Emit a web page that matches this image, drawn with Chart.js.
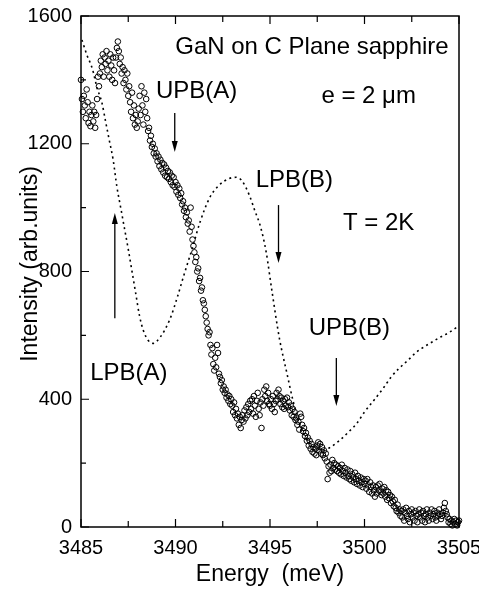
<!DOCTYPE html>
<html><head><meta charset="utf-8">
<script src="https://cdn.jsdelivr.net/npm/chart.js@4.4.0/dist/chart.umd.min.js"></script>
<style>html,body{margin:0;padding:0;background:#fff;}canvas{display:block;}</style>
</head><body>
<canvas id="c" width="479" height="595"></canvas>
<script>
// Measured spectrum: energy grid (meV) and intensity (arb. units)
const E_START = 3485, E_STEP = 0.05;
const intensity = [
 1400,1340,1300,1350,1320,1280,1370,1330,1265,1300,1255,1290,1320,1270,1300,1250,1290,1340,1410,1380,
 1420,1460,1440,1480,1410,1470,1450,1490,1430,1460,1410,1480,1445,1400,1470,1430,1390,1470,1500,1520,
 1490,1450,1470,1420,1440,1390,1430,1400,1370,1420,1350,1380,1330,1300,1360,1280,1320,1260,1290,1250,
 1270,1310,1350,1290,1380,1320,1260,1360,1300,1340,1280,1240,1250,1210,1225,1190,1200,1170,1185,1160,
 1170,1145,1160,1130,1150,1120,1140,1110,1135,1100,1125,1095,1115,1090,1110,1080,1100,1070,1095,1065,
 1080,1050,1070,1040,1060,1030,1045,1010,1020,990,1000,970,985,950,960,925,1000,940,900,880,
 860,830,845,800,810,770,780,740,750,710,700,680,660,640,620,600,610,570,540,560,
 510,490,530,500,570,545,480,470,450,460,430,440,420,430,405,415,395,410,385,400,
 380,360,390,350,370,340,355,320,345,310,335,350,330,365,340,375,350,385,360,395,
 370,400,355,410,380,345,395,420,370,350,390,310,400,380,430,410,440,395,420,385,
 380,400,370,410,385,360,395,420,400,430,410,385,405,375,395,370,400,380,405,375,
 390,365,380,350,370,345,360,335,340,320,330,305,355,345,320,300,310,285,295,270,
 280,255,270,245,260,235,250,230,245,225,255,265,240,260,230,250,225,240,215,230,
 205,150,190,170,195,175,210,185,200,180,195,175,190,170,185,165,195,175,160,185,
 170,155,180,160,150,175,145,165,155,140,170,150,135,160,145,130,155,140,125,150,
 135,145,120,150,130,110,140,125,105,130,115,95,125,105,130,115,135,110,100,120,
 105,125,95,115,85,110,90,100,75,95,80,65,85,60,50,70,45,55,35,50,
 30,55,20,45,60,35,25,50,15,40,55,30,45,20,50,35,15,40,55,30,
 45,20,50,35,15,40,55,30,20,45,35,55,25,40,50,30,20,45,35,55,
 40,25,35,45,60,75,50,40,30,15,25,10,20,5,15,25,10,20,5,15,
 20
];
// Calculated (dotted) curve
const fitEnergy = [3485.05,3485.3,3485.6,3485.85,3486.1,3486.3,3486.5,3486.7,3486.9,3487.1,3487.3,3487.5,3487.7,3487.9,3488.1,3488.3,3488.55,3488.8,3489.2,3489.7,3490.1,3490.4,3490.9,3491.3,3491.8,3492.3,3492.8,3493.2,3493.5,3493.9,3494.2,3494.5,3494.8,3495.1,3495.5,3495.9,3496.2,3496.6,3497.1,3497.5,3497.8,3498.2,3498.7,3499.2,3499.6,3500.0,3500.5,3501.0,3501.4,3501.8,3502.3,3502.7,3503.1,3503.6,3504.0,3504.5,3504.95];
const fitIntensity = [1525,1480,1435,1375,1330,1270,1210,1150,1065,1000,935,870,800,730,660,615,585,575,595,650,720,780,875,955,1030,1070,1090,1095,1085,1040,990,940,860,740,590,480,400,315,262,245,240,250,272,300,325,360,397,435,469,495,522,545,562,580,594,610,628];

const xMinorTicks = [3487.5,3492.5,3497.5,3502.5];
const xMajorTicks = [3485,3490,3495,3500,3505];
const yMinorTicks = [200,600,1000,1400];
const yMajorTicks = [0,400,800,1200,1600];

const textLabels = [
  {text:'GaN on C Plane sapphire', x:3497.22, y:1481},
  {text:'UPB(A)', x:3491.12, y:1343},
  {text:'e = 2 \u03bcm', x:3500.22, y:1327},
  {text:'LPB(B)', x:3496.29, y:1064},
  {text:'T = 2K', x:3500.75, y:930},
  {text:'UPB(B)', x:3499.2, y:601},
  {text:'LPB(A)', x:3487.53, y:460}
];
const arrowList = [
  {x:3489.96, from:1296, to:1174},
  {x:3495.45, from:1008, to:827},
  {x:3498.51, from:529, to:379},
  {x:3486.79, from:654, to:983}
];

const FONT = "'Liberation Sans', Arial, Helvetica, sans-serif";
const spectrum = intensity.map((v,i)=>({x: E_START + i*E_STEP, y: v}));
const fit = fitEnergy.map((e,i)=>({x:e, y:fitIntensity[i]}));

const deco = {
  id:'deco',
  afterDraw(chart){
    const {ctx, chartArea:a, scales:{x,y}} = chart;
    ctx.save();
    ctx.strokeStyle='#000';
    ctx.lineWidth=1.5;
    ctx.strokeRect(a.left, a.top, a.right-a.left, a.bottom-a.top);
    ctx.lineWidth=1.2;
    ctx.beginPath();
    const xt = (v,L)=>{const p=x.getPixelForValue(v); ctx.moveTo(p,a.bottom); ctx.lineTo(p,a.bottom-L); ctx.moveTo(p,a.top); ctx.lineTo(p,a.top+L);};
    const yt = (v,L)=>{const p=y.getPixelForValue(v); ctx.moveTo(a.left,p); ctx.lineTo(a.left+L,p);};
    xMajorTicks.forEach(v=>xt(v,8)); xMinorTicks.forEach(v=>xt(v,6));
    yMajorTicks.forEach(v=>yt(v,8)); yMinorTicks.forEach(v=>yt(v,5));
    ctx.stroke();
    // annotations
    ctx.fillStyle='#000';
    ctx.font = '24px ' + FONT;
    ctx.textAlign='center'; ctx.textBaseline='alphabetic';
    textLabels.forEach(l=>ctx.fillText(l.text, x.getPixelForValue(l.x), y.getPixelForValue(l.y)));
    arrowList.forEach(ar=>{
      const px = x.getPixelForValue(ar.x), y0=y.getPixelForValue(ar.from), y1=y.getPixelForValue(ar.to);
      const dir = Math.sign(y1-y0);
      ctx.lineWidth=1.3;
      ctx.beginPath(); ctx.moveTo(px,y0); ctx.lineTo(px,y1-dir*8); ctx.stroke();
      ctx.beginPath(); ctx.moveTo(px,y1); ctx.lineTo(px-3,y1-dir*11); ctx.lineTo(px+3,y1-dir*11); ctx.closePath(); ctx.fill();
    });
    // axis titles
    ctx.font = '23px ' + FONT;
    ctx.textAlign='center'; ctx.textBaseline='alphabetic';
    ctx.fillText('Energy  (meV)', (a.left+a.right)/2, 581);
    ctx.save();
    ctx.translate(37, 264);
    ctx.rotate(-Math.PI/2);
    ctx.fillText('Intensity (arb.units)', 0, 0);
    ctx.restore();
    ctx.restore();
  }
};

new Chart(document.getElementById('c'), {
  type:'scatter',
  data:{datasets:[
    {data: spectrum, pointRadius:2.8, pointBorderWidth:1, pointBorderColor:'#000', pointBackgroundColor:'rgba(0,0,0,0)', showLine:false, clip:false, order:1},
    {data: fit, showLine:true, pointRadius:0, borderColor:'#000', borderWidth:1.6, borderDash:[2,3.5], cubicInterpolationMode:'monotone', fill:false, order:2}
  ]},
  options:{
    responsive:false, animation:false, devicePixelRatio:1,
    layout:{padding:{top:16,right:20,left:0,bottom:0}},
    plugins:{legend:{display:false}, tooltip:{enabled:false}},
    scales:{
      x:{type:'linear', min:3485, max:3505,
         ticks:{stepSize:5, color:'#000', padding:9, font:{size:20, family:FONT}, callback:v=>String(v), maxRotation:0},
         grid:{display:false, drawTicks:false}, border:{display:false},
         afterFit(s){ s.height=68; s.paddingLeft=0; s.paddingRight=0; }},
      y:{type:'linear', min:0, max:1600,
         ticks:{stepSize:400, color:'#000', padding:9, font:{size:20, family:FONT}, callback:v=>String(v)},
         grid:{display:false, drawTicks:false}, border:{display:false},
         afterFit(s){ s.width=81; s.paddingTop=0; s.paddingBottom=0; }}
    }
  },
  plugins:[deco]
});
</script>
</body></html>
